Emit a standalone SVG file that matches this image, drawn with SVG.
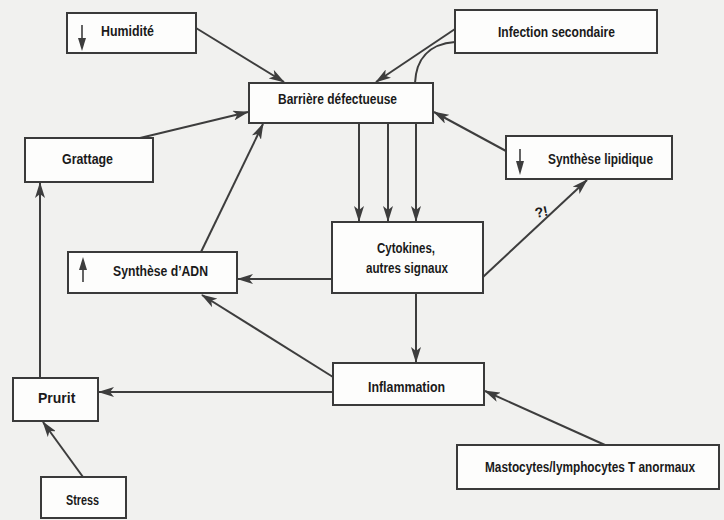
<svg xmlns="http://www.w3.org/2000/svg" width="724" height="520" viewBox="0 0 724 520">
<style>
.bg{fill:#f1f1ef}
.box{fill:#fdfdfc;stroke:#3a3a3a;stroke-width:2}
.t{font-family:"Liberation Sans Narrow","Liberation Sans",Arial,sans-serif;font-weight:bold;font-size:14px;fill:#1a1a1a}
.c{fill:none;stroke:#3d3d3d;stroke-width:2}
.ind{fill:none;stroke:#3d3d3d;stroke-width:1.6}
.tri{fill:#3d3d3d}
</style>
<defs>
<marker id="ah" viewBox="0 0 16 10" refX="15" refY="5" markerWidth="16" markerHeight="10" markerUnits="userSpaceOnUse" orient="auto">
<path d="M0,0 L16,5 L0,10 L4,5 Z" fill="#3d3d3d"/>
</marker>
</defs>
<rect class="bg" x="0" y="0" width="724" height="520"/>

<g id="connectors">
<path class="c" d="M196,28 L284,82" marker-end="url(#ah)"/>
<path class="c" d="M455,29 L376,82" marker-end="url(#ah)"/>
<path class="c" d="M455,42 C428,44 416,60 415,83"/>
<path class="c" d="M140,138 L248,112" marker-end="url(#ah)"/>
<path class="c" d="M506,151 L434,112" marker-end="url(#ah)"/>
<path class="c" d="M359,123 L359,221" marker-end="url(#ah)"/>
<path class="c" d="M388,123 L388,221" marker-end="url(#ah)"/>
<path class="c" d="M416,123 L416,221" marker-end="url(#ah)"/>
<path class="c" d="M201,252 L263,124" marker-end="url(#ah)"/>
<path class="c" d="M483,277 L587,180" marker-end="url(#ah)"/>
<path class="c" d="M332,279 L238,279" marker-end="url(#ah)"/>
<path class="c" d="M416,293 L416,362" marker-end="url(#ah)"/>
<path class="c" d="M333,377 L202,295" marker-end="url(#ah)"/>
<path class="c" d="M333,392 L99,392" marker-end="url(#ah)"/>
<path class="c" d="M605,445 L485,391" marker-end="url(#ah)"/>
<path class="c" d="M40,378 L40,183" marker-end="url(#ah)"/>
<path class="c" d="M83,477 L43,422" marker-end="url(#ah)"/>
<text class="t" x="535" y="217" font-size="13" transform="rotate(-12 540 213)">?!</text>
</g>

<g id="humidite">
<rect class="box" x="67" y="13" width="129" height="40"/>
<path class="ind" d="M82,25 L82,40"/>
<path class="tri" d="M78,38 L86,38 L82,51 Z"/>
<text class="t" x="101" y="36" textLength="53" lengthAdjust="spacingAndGlyphs">Humidité</text>
</g>

<g id="infection">
<rect class="box" x="455" y="10" width="202" height="43"/>
<text class="t" x="498" y="37" textLength="117" lengthAdjust="spacingAndGlyphs">Infection secondaire</text>
</g>

<g id="barriere">
<rect class="box" x="249" y="83" width="184" height="40"/>
<text class="t" x="278" y="104" textLength="119" lengthAdjust="spacingAndGlyphs">Barrière défectueuse</text>
</g>

<g id="grattage">
<rect class="box" x="25" y="138" width="128" height="44"/>
<text class="t" x="62" y="164" textLength="51" lengthAdjust="spacingAndGlyphs">Grattage</text>
</g>

<g id="synthese-lipidique">
<rect class="box" x="506" y="136" width="166" height="43"/>
<path class="ind" d="M520,149 L520,163"/>
<path class="tri" d="M516,161 L524,161 L520,175 Z"/>
<text class="t" x="548" y="164" textLength="105" lengthAdjust="spacingAndGlyphs">Synthèse lipidique</text>
</g>

<g id="cytokines">
<rect class="box" x="332" y="222" width="151" height="71"/>
<text class="t" x="377" y="253" textLength="58" lengthAdjust="spacingAndGlyphs">Cytokines,</text>
<text class="t" x="366" y="273" textLength="82" lengthAdjust="spacingAndGlyphs">autres signaux</text>
</g>

<g id="synthese-adn">
<rect class="box" x="68" y="252" width="169" height="41"/>
<path class="ind" d="M83,282 L83,268"/>
<path class="tri" d="M79,270 L87,270 L83,257 Z"/>
<text class="t" x="113" y="276" textLength="95" lengthAdjust="spacingAndGlyphs">Synthèse d’ADN</text>
</g>

<g id="inflammation">
<rect class="box" x="333" y="363" width="151" height="42"/>
<text class="t" x="368" y="392" textLength="77" lengthAdjust="spacingAndGlyphs">Inflammation</text>
</g>

<g id="prurit">
<rect class="box" x="13" y="378" width="85" height="43"/>
<text class="t" x="38" y="403" font-size="13">Prurit</text>
</g>

<g id="mastocytes">
<rect class="box" x="457" y="445" width="262" height="44"/>
<text class="t" x="590" y="472" font-size="12.5" text-anchor="middle" textLength="210" lengthAdjust="spacingAndGlyphs">Mastocytes/lymphocytes T anormaux</text>
</g>

<g id="stress">
<rect class="box" x="41" y="477" width="85" height="41"/>
<text class="t" x="66" y="505" textLength="33" lengthAdjust="spacingAndGlyphs">Stress</text>
</g>
</svg>
